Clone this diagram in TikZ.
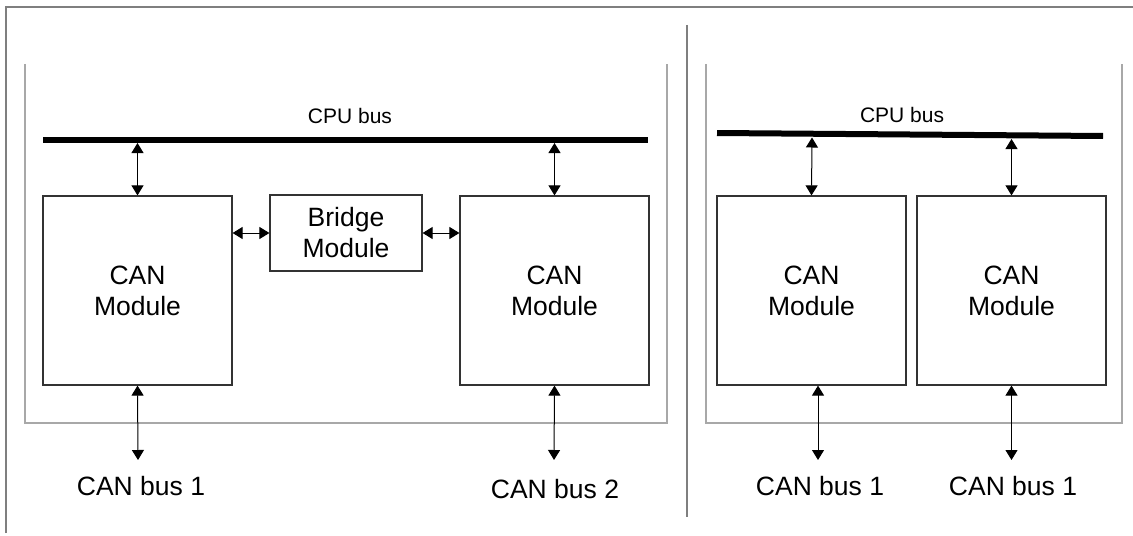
\documentclass[tikz,border=0pt]{standalone}
\usepackage{fontspec}
\setmainfont{Liberation Sans}
\usetikzlibrary{arrows.meta,calc}
\definecolor{framegray}{HTML}{7F7F7F}
\definecolor{panelgray}{HTML}{A8A8A8}
\definecolor{edge}{HTML}{333333}
\tikzset{
  modbox/.style={draw=edge, line width=0.6pt, inner sep=0pt, align=center, minimum width=94.5pt, minimum height=94.5pt, font=\fontsize{13.25}{15.5}\selectfont},
  bridgebox/.style={modbox, minimum width=76pt, minimum height=38pt},
  lbl/.style={inner sep=0pt, anchor=base, font=\fontsize{13.25}{15.5}\selectfont},
  buslbl/.style={lbl, font=\fontsize{10.5}{12}\selectfont},
  bus/.style={line width=3pt, black},
  panel/.style={draw=panelgray, line width=0.6pt},
  frame/.style={draw=framegray, line width=0.6pt},
  arr/.style={{Triangle[length=5pt,width=6pt]}-{Triangle[length=5pt,width=6pt]}, line width=0.5pt, black}}

\begin{document}
\begin{tikzpicture}[x=0.5pt, y=-0.5pt]
\useasboundingbox (0,0) rectangle (1133,535);
% frame and divider
\draw[frame] (6,533) -- (6,7) -- (1133,7);
\draw[frame] (687,25) -- (687,517);
\draw[panel] (25,64) -- (25,423) -- (667,423) -- (667,64);
\draw[panel] (706,64) -- (706,423) -- (1122,423) -- (1122,64);

% left: two CAN modules with a bridge
\draw[bus] (43,140) -- (648,140);
\node[buslbl] (cpul) at (350,123) {CPU bus};
\coordinate (lbus) at (0,143);
\node[modbox] (lcan) at (137.5,290.5) {CAN\\Module};
\node[bridgebox] (bridge) at (346,233) {Bridge\\Module};
\node[modbox] (rcan) at (554.5,290.5) {CAN\\Module};
\coordinate (lout1) at (138,460);
\coordinate (lout2) at (554,460);
\node[lbl] (canl1) at (141,495) {CAN bus 1};
\node[lbl] (canl2) at (555,498) {CAN bus 2};
\draw[arr] (lcan.north) -- (lcan.north |- lbus);
\draw[arr] (rcan.north) -- (rcan.north |- lbus);
\draw[arr] (lcan.east |- bridge) -- (bridge.west);
\draw[arr] (bridge.east) -- (rcan.west |- bridge);
\draw[arr] (lcan.south) -- (lout1);
\draw[arr] (rcan.south) -- (lout2);

% right: two CAN modules
\draw[bus] (717,133) -- (1103,136);
\node[buslbl] (cpur) at (902,122) {CPU bus};
\coordinate (rtap1) at (812,137.5);
\coordinate (rtap2) at (1011.5,139);
\node[modbox] (cana) at (811.5,290.5) {CAN\\Module};
\node[modbox] (canb) at (1011.5,290.5) {CAN\\Module};
\coordinate (rout1) at (818,460);
\coordinate (rout2) at (1011.5,460);
\node[lbl] (canr1) at (820,495) {CAN bus 1};
\node[lbl] (canr2) at (1013,495) {CAN bus 1};
\draw[arr] (cana.north) -- (rtap1);
\draw[arr] (canb.north) -- (rtap2);
\draw[arr] (cana.south -| rout1) -- (rout1);
\draw[arr] (canb.south) -- (rout2);
\end{tikzpicture}
\end{document}
